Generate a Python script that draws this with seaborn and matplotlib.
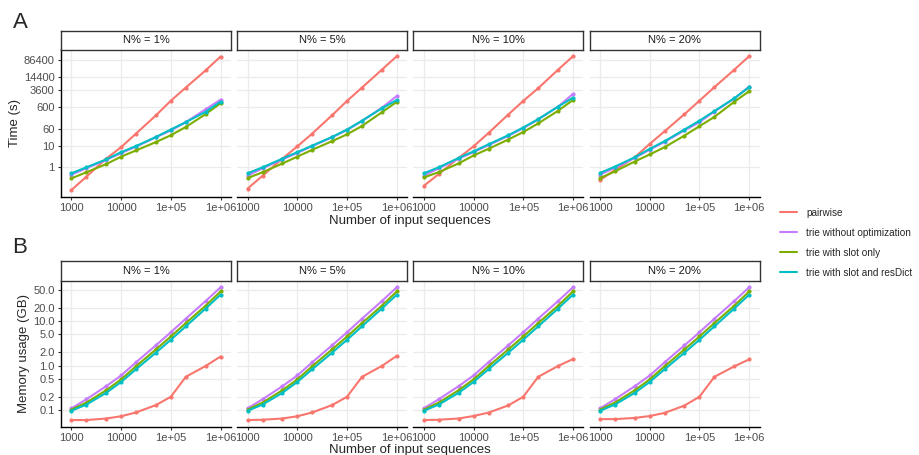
import numpy as np
import pandas as pd
import seaborn as sns
import matplotlib.pyplot as plt
from matplotlib.lines import Line2D

# --- data ---
N_SEQ = [1000, 2000, 5000, 10000, 20000, 50000, 100000, 200000, 500000, 1000000]
PANELS = ["N% = 1%", "N% = 5%", "N% = 10%", "N% = 20%"]
METHODS = ["pairwise", "trie without optimization", "trie with slot only",
           "trie with slot and resDict"]
COLORS = ["#F8766D", "#C77CFF", "#7CAE00", "#00BFC4"]

# running time (s), one row per panel
time_pairwise = [
    [0.09, 0.37, 2.5, 8.5, 36, 245, 1170, 4700, 29000, 126000],
    [0.105, 0.41, 2.5, 9.2, 36, 250, 1140, 4700, 31000, 130000],
    [0.14, 0.49, 2.7, 9.2, 38, 270, 1140, 4400, 31000, 130000],
    [0.26, 0.75, 2.9, 12, 46, 280, 1170, 4900, 31000, 131000],
]
time_trie_plain = [
    [0.46, 0.9, 2.2, 4.5, 9, 24, 50, 120, 470, 1300],
    [0.41, 0.9, 2.3, 4.6, 9.5, 24, 52, 135, 550, 1900],
    [0.41, 0.9, 2.5, 5.0, 10.5, 28, 63, 160, 620, 2400],
    [0.46, 0.95, 2.7, 6.5, 15, 50, 120, 370, 1450, 5200],
]
time_trie_slot = [
    [0.31, 0.59, 1.4, 3.1, 6, 14.5, 30, 72, 280, 890],
    [0.32, 0.59, 1.5, 3.1, 6.4, 16, 33, 80, 340, 1030],
    [0.34, 0.6, 1.5, 3.5, 7.1, 19, 42, 105, 400, 1250],
    [0.32, 0.65, 1.85, 3.9, 8.5, 29, 78, 210, 1030, 3200],
]
time_trie_resdict = [
    [0.53, 1.0, 2.3, 5, 9.5, 25, 55, 120, 360, 1050],
    [0.53, 1.0, 2.5, 5, 10, 25, 55, 140, 520, 1250],
    [0.53, 1.0, 2.7, 5.4, 11.4, 30, 68, 165, 620, 1600],
    [0.55, 1.08, 2.9, 7.1, 16, 55, 140, 390, 1500, 4900],
]

# memory usage (GB), one row per panel
mem_pairwise = [
    [0.06, 0.06, 0.065, 0.073, 0.089, 0.13, 0.2, 0.56, 0.98, 1.6],
    [0.06, 0.061, 0.065, 0.073, 0.089, 0.13, 0.2, 0.56, 0.98, 1.65],
    [0.06, 0.061, 0.065, 0.074, 0.088, 0.128, 0.2, 0.56, 0.98, 1.4],
    [0.063, 0.063, 0.067, 0.074, 0.087, 0.127, 0.2, 0.56, 0.96, 1.38],
]
mem_trie_plain = [
    [0.11, 0.176, 0.345, 0.6, 1.19, 2.85, 5.6, 11.3, 28, 57],
    [0.11, 0.176, 0.345, 0.6, 1.19, 2.85, 5.6, 11.3, 28, 57],
    [0.11, 0.176, 0.345, 0.6, 1.19, 2.85, 5.6, 11.3, 28, 57],
    [0.11, 0.176, 0.345, 0.6, 1.19, 2.85, 5.6, 11.3, 28, 57],
]
mem_trie_slot = [
    [0.103, 0.148, 0.28, 0.49, 0.97, 2.3, 4.5, 9.0, 22, 46],
    [0.103, 0.148, 0.28, 0.49, 0.97, 2.3, 4.5, 9.0, 22, 46],
    [0.103, 0.148, 0.28, 0.49, 0.97, 2.3, 4.5, 9.0, 22, 46],
    [0.103, 0.148, 0.28, 0.49, 0.97, 2.3, 4.5, 9.0, 22, 46],
]
mem_trie_resdict = [
    [0.097, 0.134, 0.245, 0.43, 0.83, 1.95, 3.8, 7.6, 19, 39],
    [0.097, 0.134, 0.245, 0.43, 0.83, 1.95, 3.8, 7.6, 19, 39],
    [0.097, 0.134, 0.245, 0.43, 0.83, 1.95, 3.8, 7.6, 19, 39],
    [0.097, 0.134, 0.245, 0.43, 0.83, 1.95, 3.8, 7.6, 19, 39],
]

X_TICKS = [1000, 10000, 100000, 1000000]
X_TICKLABELS = ["1000", "10000", "1e+05", "1e+06"]
TIME_TICKS = [1, 10, 60, 600, 3600, 14400, 86400]
MEM_TICKS = [0.1, 0.2, 0.5, 1.0, 2.0, 5.0, 10.0, 20.0, 50.0]


def to_long(series):
    rows = []
    for method, values in zip(METHODS, series):
        for p, panel in enumerate(PANELS):
            for n, v in zip(N_SEQ, values[p]):
                rows.append({"panel": panel, "method": method, "n": n, "value": v})
    return pd.DataFrame(rows)


time_df = to_long([time_pairwise, time_trie_plain, time_trie_slot, time_trie_resdict])
mem_df = to_long([mem_pairwise, mem_trie_plain, mem_trie_slot, mem_trie_resdict])

sns.set_style("white")
plt.rcParams["font.family"] = ["Liberation Sans", "DejaVu Sans"]

W, H = 919, 455
fig = plt.figure(figsize=(W / 100, H / 100), dpi=100)

PANEL_LEFT = 61
PANEL_W = 170
PANEL_STEP = 176.2


def log_limits(values, expand=0.05):
    lo, hi = np.log10(min(values)), np.log10(max(values))
    span = hi - lo
    return 10 ** (lo - expand * span), 10 ** (hi + expand * span)


def draw_row(df, top, bottom, strip_top, yticks, yticklabels):
    ylim = log_limits(df["value"])
    axes = []
    for i, panel in enumerate(PANELS):
        x0 = PANEL_LEFT + i * PANEL_STEP
        ax = fig.add_axes([x0 / W, 1 - bottom / H, PANEL_W / W, (bottom - top) / H])
        sub = df[df["panel"] == panel]
        sns.lineplot(data=sub, x="n", y="value", hue="method", hue_order=METHODS,
                     palette=COLORS, marker="o", markersize=3.0, markeredgewidth=0,
                     linewidth=1.5, legend=False, ax=ax)
        ax.set_xscale("log")
        ax.set_yscale("log")
        ax.set_xlim(10 ** 2.79, 10 ** 6.21)
        ax.set_ylim(*ylim)
        ax.set_xticks(X_TICKS)
        ax.set_xticklabels(X_TICKLABELS)
        ax.set_yticks(yticks)
        ax.set_yticklabels(yticklabels)
        ax.minorticks_off()
        ax.grid(True, color="#EBEBEB", linewidth=0.9)
        ax.set_axisbelow(True)
        ax.set_xlabel("")
        ax.set_ylabel("")
        for s in ["top", "right"]:
            ax.spines[s].set_visible(False)
        ax.spines["bottom"].set_color("black")
        ax.spines["bottom"].set_linewidth(1.0)
        ax.tick_params(axis="both", colors="#333333", labelcolor="#4D4D4D",
                       labelsize=8, length=2.5, width=0.8, pad=2,
                       bottom=True, left=(i == 0))
        if i == 0:
            ax.spines["left"].set_color("black")
            ax.spines["left"].set_linewidth(1.0)
        else:
            ax.spines["left"].set_visible(False)
            ax.tick_params(axis="y", labelleft=False)
        # facet strip
        sax = fig.add_axes([x0 / W, 1 - top / H, PANEL_W / W, (top - strip_top) / H])
        sax.set_xticks([])
        sax.set_yticks([])
        sax.set_facecolor("white")
        for s in sax.spines.values():
            s.set_color("#333333")
            s.set_linewidth(1.0)
            s.set_visible(True)
        sax.text(0.5, 0.5, panel, ha="center", va="center", fontsize=8,
                 color="#1A1A1A", transform=sax.transAxes)
        axes.append(ax)
    return axes


draw_row(time_df, 49.5, 196.7, 31, TIME_TICKS, [str(t) for t in TIME_TICKS])
draw_row(mem_df, 280.7, 426.7, 261, MEM_TICKS, [f"{t:.1f}" for t in MEM_TICKS])

# axis titles
centre_x = (PANEL_LEFT + 3 * PANEL_STEP + PANEL_W + PANEL_LEFT) / 2 / W
fig.text(centre_x, 1 - 221 / H, "Number of input sequences", ha="center",
         va="center", fontsize=9.5)
fig.text(centre_x, 1 - 449.5 / H, "Number of input sequences", ha="center",
         va="center", fontsize=9.5)
fig.text(15 / W, 1 - 123 / H, "Time (s)", rotation=90, ha="center",
         va="center", fontsize=9.5)
fig.text(24 / W, 1 - 353.5 / H, "Memory usage (GB)", rotation=90, ha="center",
         va="center", fontsize=9.5)

# panel tags
fig.text(20 / W, 1 - 23 / H, "A", ha="center", va="center", fontsize=16)
fig.text(20 / W, 1 - 248 / H, "B", ha="center", va="center", fontsize=16)

# legend
handles = [Line2D([0], [0], color=c, linewidth=1.5) for c in COLORS]
fig.legend(handles, METHODS, loc="center left", bbox_to_anchor=(780 / W, 1 - 242.5 / H),
           frameon=False, fontsize=7.2, handlelength=1.7, handletextpad=0.9,
           labelspacing=1.0, borderpad=0, borderaxespad=0)

fig.savefig("out.png", dpi=100)
